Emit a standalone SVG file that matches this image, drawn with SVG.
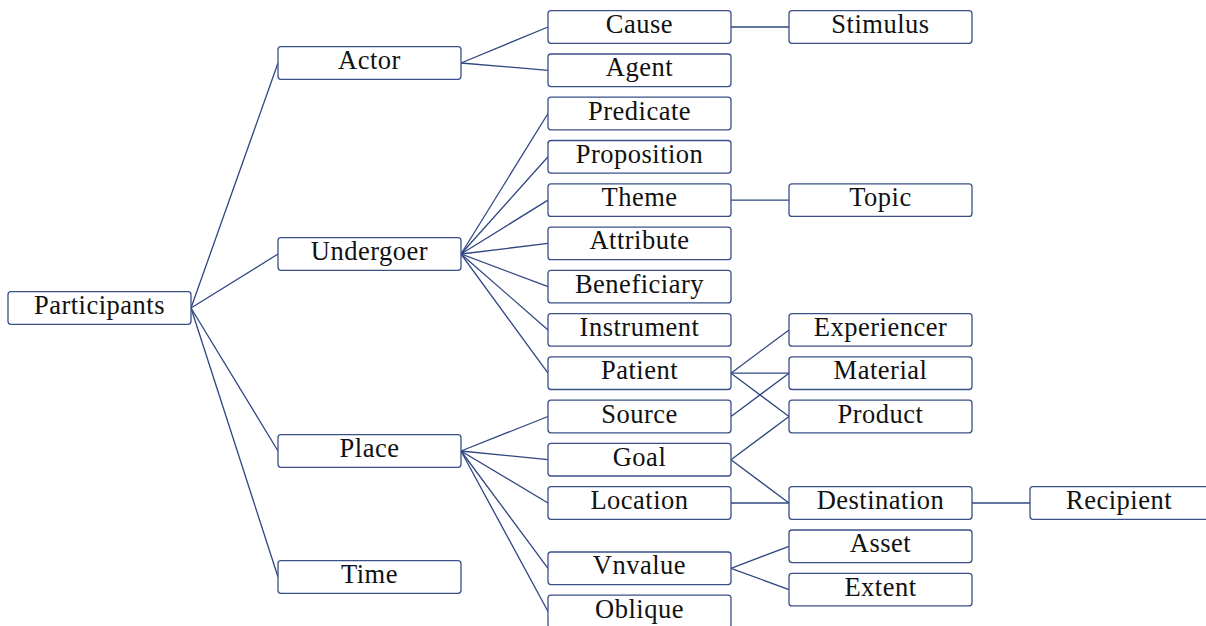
<svg xmlns="http://www.w3.org/2000/svg" width="1206" height="626" viewBox="0 0 1206 626">
<style>
.n rect{fill:#fff;stroke:#3a5088;stroke-width:1.3}
.n text{font-family:"Liberation Serif","DejaVu Serif",serif;font-size:26.5px;letter-spacing:0.5px;fill:#111;text-anchor:middle}
#edges line{stroke:#2f4680;stroke-width:1.3}
</style>
<rect width="1206" height="626" fill="#fff"/>
<g id="edges">
<line x1="191" y1="308" x2="278" y2="63"/>
<line x1="191" y1="308" x2="278" y2="254"/>
<line x1="191" y1="308" x2="278" y2="451"/>
<line x1="191" y1="308" x2="278" y2="577"/>
<line x1="461" y1="63" x2="548" y2="27"/>
<line x1="461" y1="63" x2="548" y2="70.3"/>
<line x1="461" y1="254" x2="548" y2="113.5"/>
<line x1="461" y1="254" x2="548" y2="156.8"/>
<line x1="461" y1="254" x2="548" y2="200.1"/>
<line x1="461" y1="254" x2="548" y2="243.4"/>
<line x1="461" y1="254" x2="548" y2="286.6"/>
<line x1="461" y1="254" x2="548" y2="329.9"/>
<line x1="461" y1="254" x2="548" y2="373.2"/>
<line x1="461" y1="451" x2="548" y2="416.5"/>
<line x1="461" y1="451" x2="548" y2="459.7"/>
<line x1="461" y1="451" x2="548" y2="503"/>
<line x1="461" y1="451" x2="548" y2="568.3"/>
<line x1="461" y1="451" x2="548" y2="611.5"/>
<line x1="731" y1="27" x2="789" y2="27"/>
<line x1="731" y1="200.1" x2="789" y2="200.1"/>
<line x1="731" y1="373.2" x2="789" y2="329.9"/>
<line x1="731" y1="373.2" x2="789" y2="373.2"/>
<line x1="731" y1="373.2" x2="789" y2="416.5"/>
<line x1="731" y1="416.5" x2="789" y2="373.2"/>
<line x1="731" y1="459.7" x2="789" y2="416.5"/>
<line x1="731" y1="459.7" x2="789" y2="503"/>
<line x1="731" y1="503" x2="789" y2="503"/>
<line x1="731" y1="568.3" x2="789" y2="546.3"/>
<line x1="731" y1="568.3" x2="789" y2="589.6"/>
<line x1="972" y1="503" x2="1030" y2="503"/>
</g>
<g id="participants" class="n"><rect x="8" y="291.7" width="183" height="32.6" rx="3"/><text x="99.5" y="314">Participants</text></g>
<g id="actor" class="n"><rect x="278" y="46.7" width="183" height="32.6" rx="3"/><text x="369.5" y="69">Actor</text></g>
<g id="undergoer" class="n"><rect x="278" y="237.7" width="183" height="32.6" rx="3"/><text x="369.5" y="260">Undergoer</text></g>
<g id="place" class="n"><rect x="278" y="434.7" width="183" height="32.6" rx="3"/><text x="369.5" y="457">Place</text></g>
<g id="time" class="n"><rect x="278" y="560.7" width="183" height="32.6" rx="3"/><text x="369.5" y="583">Time</text></g>
<g id="cause" class="n"><rect x="548" y="10.7" width="183" height="32.6" rx="3"/><text x="639.5" y="33">Cause</text></g>
<g id="agent" class="n"><rect x="548" y="54" width="183" height="32.6" rx="3"/><text x="639.5" y="76.3">Agent</text></g>
<g id="predicate" class="n"><rect x="548" y="97.2" width="183" height="32.6" rx="3"/><text x="639.5" y="119.5">Predicate</text></g>
<g id="proposition" class="n"><rect x="548" y="140.5" width="183" height="32.6" rx="3"/><text x="639.5" y="162.8">Proposition</text></g>
<g id="theme" class="n"><rect x="548" y="183.8" width="183" height="32.6" rx="3"/><text x="639.5" y="206.1">Theme</text></g>
<g id="attribute" class="n"><rect x="548" y="227.1" width="183" height="32.6" rx="3"/><text x="639.5" y="249.4">Attribute</text></g>
<g id="beneficiary" class="n"><rect x="548" y="270.3" width="183" height="32.6" rx="3"/><text x="639.5" y="292.6">Beneficiary</text></g>
<g id="instrument" class="n"><rect x="548" y="313.6" width="183" height="32.6" rx="3"/><text x="639.5" y="335.9">Instrument</text></g>
<g id="patient" class="n"><rect x="548" y="356.9" width="183" height="32.6" rx="3"/><text x="639.5" y="379.2">Patient</text></g>
<g id="source" class="n"><rect x="548" y="400.2" width="183" height="32.6" rx="3"/><text x="639.5" y="422.5">Source</text></g>
<g id="goal" class="n"><rect x="548" y="443.4" width="183" height="32.6" rx="3"/><text x="639.5" y="465.7">Goal</text></g>
<g id="location" class="n"><rect x="548" y="486.7" width="183" height="32.6" rx="3"/><text x="639.5" y="509">Location</text></g>
<g id="vnvalue" class="n"><rect x="548" y="552" width="183" height="32.6" rx="3"/><text x="639.5" y="574.3">Vnvalue</text></g>
<g id="oblique" class="n"><rect x="548" y="595.2" width="183" height="32.6" rx="3"/><text x="639.5" y="617.5">Oblique</text></g>
<g id="stimulus" class="n"><rect x="789" y="10.7" width="183" height="32.6" rx="3"/><text x="880.5" y="33">Stimulus</text></g>
<g id="topic" class="n"><rect x="789" y="183.8" width="183" height="32.6" rx="3"/><text x="880.5" y="206.1">Topic</text></g>
<g id="experiencer" class="n"><rect x="789" y="313.6" width="183" height="32.6" rx="3"/><text x="880.5" y="335.9">Experiencer</text></g>
<g id="material" class="n"><rect x="789" y="356.9" width="183" height="32.6" rx="3"/><text x="880.5" y="379.2">Material</text></g>
<g id="product" class="n"><rect x="789" y="400.2" width="183" height="32.6" rx="3"/><text x="880.5" y="422.5">Product</text></g>
<g id="destination" class="n"><rect x="789" y="486.7" width="183" height="32.6" rx="3"/><text x="880.5" y="509">Destination</text></g>
<g id="asset" class="n"><rect x="789" y="530" width="183" height="32.6" rx="3"/><text x="880.5" y="552.3">Asset</text></g>
<g id="extent" class="n"><rect x="789" y="573.3" width="183" height="32.6" rx="3"/><text x="880.5" y="595.6">Extent</text></g>
<g id="recipient" class="n"><rect x="1030" y="486.7" width="183" height="32.6" rx="3"/><text x="1119" y="509">Recipient</text></g>
</svg>
